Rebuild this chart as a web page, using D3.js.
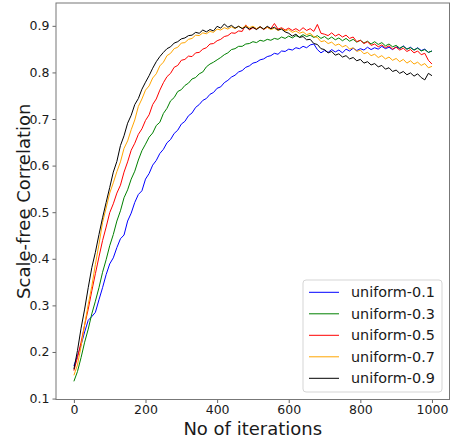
<!DOCTYPE html>
<html>
<head>
<meta charset="utf-8">
<script src="https://cdn.jsdelivr.net/npm/d3@7"></script>
<style>
  body { margin: 0; background: #fff; }
  svg { display: block; font-family: "DejaVu Sans", sans-serif; }
</style>
</head>
<body>
<script>
// every 10th iteration
var iterations = d3.range(0, 1001, 10);

var uniform01 = [0.170,0.192,0.215,0.243,0.268,0.276,0.285,0.312,0.338,0.366,
  0.389,0.402,0.424,0.443,0.451,0.481,0.498,0.521,0.538,0.546,
  0.571,0.583,0.601,0.611,0.626,0.635,0.649,0.656,0.669,0.676,
  0.689,0.695,0.707,0.713,0.725,0.731,0.740,0.744,0.753,0.757,
  0.766,0.769,0.778,0.783,0.790,0.794,0.801,0.804,0.811,0.814,
  0.820,0.822,0.827,0.829,0.834,0.836,0.841,0.839,0.846,0.845,
  0.850,0.848,0.853,0.851,0.856,0.853,0.859,0.861,0.849,0.842,
  0.847,0.843,0.849,0.844,0.848,0.842,0.850,0.846,0.852,0.847,
  0.851,0.848,0.854,0.849,0.853,0.850,0.856,0.851,0.854,0.849,
  0.855,0.851,0.857,0.850,0.854,0.848,0.853,0.847,0.850,0.843,0.846];

var uniform03 = [0.137,0.158,0.188,0.221,0.249,0.282,0.309,0.338,0.371,0.398,
  0.428,0.452,0.481,0.503,0.531,0.548,0.571,0.588,0.612,0.632,
  0.646,0.661,0.670,0.686,0.693,0.712,0.723,0.739,0.746,0.759,
  0.763,0.772,0.777,0.786,0.789,0.797,0.801,0.812,0.818,0.822,
  0.827,0.832,0.838,0.842,0.849,0.851,0.856,0.856,0.861,0.862,
  0.866,0.864,0.869,0.867,0.871,0.869,0.873,0.871,0.876,0.873,
  0.878,0.874,0.879,0.876,0.881,0.877,0.880,0.875,0.879,0.873,
  0.877,0.871,0.876,0.870,0.874,0.868,0.873,0.867,0.871,0.865,
  0.869,0.863,0.867,0.861,0.866,0.860,0.864,0.857,0.861,0.855,
  0.858,0.852,0.856,0.850,0.853,0.848,0.852,0.846,0.849,0.843,0.846];

var uniform05 = [0.160,0.188,0.221,0.258,0.292,0.331,0.368,0.404,0.439,0.468,
  0.499,0.518,0.541,0.558,0.586,0.608,0.633,0.648,0.667,0.679,
  0.697,0.709,0.731,0.743,0.762,0.778,0.791,0.798,0.811,0.815,
  0.826,0.828,0.835,0.834,0.842,0.843,0.850,0.853,0.861,0.862,
  0.868,0.871,0.877,0.879,0.885,0.884,0.889,0.888,0.902,0.891,
  0.896,0.893,0.898,0.892,0.897,0.894,0.905,0.893,0.896,0.891,
  0.895,0.890,0.894,0.889,0.896,0.890,0.894,0.888,0.903,0.884,
  0.882,0.879,0.885,0.878,0.882,0.876,0.880,0.873,0.876,0.866,
  0.869,0.862,0.866,0.858,0.861,0.855,0.859,0.853,0.857,0.850,
  0.854,0.848,0.852,0.845,0.849,0.842,0.846,0.838,0.841,0.826,0.818];

var uniform07 = [0.150,0.172,0.212,0.259,0.302,0.341,0.388,0.431,0.478,0.509,
  0.541,0.563,0.587,0.608,0.637,0.653,0.677,0.698,0.727,0.743,
  0.762,0.771,0.788,0.797,0.814,0.822,0.836,0.841,0.851,0.854,
  0.863,0.864,0.871,0.873,0.880,0.879,0.885,0.883,0.888,0.886,
  0.893,0.891,0.896,0.893,0.898,0.894,0.899,0.895,0.900,0.896,
  0.899,0.894,0.898,0.893,0.897,0.892,0.895,0.890,0.894,0.889,
  0.892,0.886,0.889,0.884,0.887,0.881,0.884,0.877,0.875,0.866,
  0.868,0.862,0.865,0.858,0.861,0.855,0.858,0.850,0.853,0.845,
  0.848,0.840,0.843,0.836,0.839,0.832,0.836,0.829,0.833,0.826,
  0.830,0.823,0.828,0.820,0.825,0.818,0.822,0.815,0.819,0.810,0.813];

var uniform09 = [0.163,0.203,0.251,0.292,0.338,0.381,0.414,0.452,0.488,0.521,
  0.553,0.586,0.609,0.643,0.664,0.691,0.708,0.731,0.744,0.764,
  0.779,0.793,0.809,0.823,0.834,0.843,0.851,0.855,0.863,0.866,
  0.872,0.874,0.879,0.880,0.886,0.884,0.891,0.887,0.892,0.889,
  0.899,0.895,0.904,0.897,0.901,0.895,0.899,0.894,0.898,0.893,
  0.897,0.892,0.898,0.893,0.899,0.894,0.897,0.891,0.893,0.887,
  0.884,0.878,0.882,0.875,0.877,0.870,0.871,0.862,0.860,0.851,
  0.849,0.842,0.845,0.837,0.840,0.833,0.836,0.829,0.832,0.825,
  0.828,0.820,0.823,0.816,0.819,0.812,0.815,0.807,0.810,0.802,
  0.805,0.798,0.802,0.795,0.799,0.792,0.797,0.789,0.784,0.798,0.793];

var seriesNames = ["uniform-0.1", "uniform-0.3", "uniform-0.5", "uniform-0.7", "uniform-0.9"];
var seriesValues = [uniform01, uniform03, uniform05, uniform07, uniform09];
var seriesColors = ["blue", "green", "red", "orange", "black"];

var xTicks = [0, 200, 400, 600, 800, 1000];
var yTicks = [0.1, 0.2, 0.3, 0.4, 0.5, 0.6, 0.7, 0.8, 0.9];

var W = 453, H = 443;
var plot = { left: 56, right: 449.5, top: 3, bottom: 399.5 };

var svg = d3.select("body").append("svg")
    .attr("width", W)
    .attr("height", H);

var x = d3.scaleLinear().domain([-50, 1049]).range([plot.left, plot.right]);
var y = d3.scaleLinear().domain([0.098, 0.949]).range([plot.bottom, plot.top]);

// axes
var xAxis = svg.append("g")
    .attr("transform", "translate(0," + plot.bottom + ")")
    .call(d3.axisBottom(x).tickValues(xTicks).tickSize(3.5).tickPadding(2.5).tickFormat(d3.format("d")));
var yAxis = svg.append("g")
    .attr("transform", "translate(" + plot.left + ",0)")
    .call(d3.axisLeft(y).tickValues(yTicks).tickSize(3.5).tickPadding(3).tickFormat(d3.format(".1f")));

[xAxis, yAxis].forEach(function(a) {
  a.select(".domain").remove();
  a.selectAll(".tick line").attr("stroke", "#555").attr("stroke-width", 0.9);
  a.selectAll(".tick text")
    .attr("fill", "#1a1a1a")
    .style("font-size", "12.5px")
    .style("font-family", "DejaVu Sans");
});

// lines
var line = d3.line()
    .x(function(d, i) { return x(iterations[i]); })
    .y(function(d) { return y(d); });

seriesValues.forEach(function(vals, k) {
  svg.append("path")
    .datum(vals)
    .attr("d", line)
    .attr("fill", "none")
    .attr("stroke", seriesColors[k])
    .attr("stroke-width", 1)
    .attr("stroke-linejoin", "round");
});

// frame
svg.append("rect")
    .attr("x", plot.left)
    .attr("y", plot.top)
    .attr("width", plot.right - plot.left)
    .attr("height", plot.bottom - plot.top)
    .attr("fill", "none")
    .attr("stroke", "#777")
    .attr("stroke-width", 1);

// axis labels
svg.append("text")
    .attr("x", (plot.left + plot.right) / 2)
    .attr("y", 435)
    .attr("text-anchor", "middle")
    .attr("fill", "#1a1a1a")
    .style("font-size", "18px")
    .text("No of iterations");

svg.append("text")
    .attr("transform", "translate(30," + ((plot.top + plot.bottom) / 2) + ") rotate(-90)")
    .attr("text-anchor", "middle")
    .attr("fill", "#1a1a1a")
    .style("font-size", "18px")
    .text("Scale-free Correlation");

// legend
var legend = svg.append("g").attr("transform", "translate(303,280)");
legend.append("rect")
    .attr("width", 139)
    .attr("height", 112)
    .attr("rx", 3)
    .attr("fill", "#fff")
    .attr("fill-opacity", 0.8)
    .attr("stroke", "#d5d5d5")
    .attr("stroke-width", 1);

seriesNames.forEach(function(name, k) {
  var row = legend.append("g").attr("transform", "translate(0," + (12.3 + k * 21.5) + ")");
  row.append("line")
    .attr("x1", 6).attr("x2", 36)
    .attr("stroke", seriesColors[k])
    .attr("stroke-width", 1);
  row.append("text")
    .attr("x", 48)
    .attr("dy", "0.36em")
    .attr("fill", "#1a1a1a")
    .style("font-size", "14.4px")
    .text(name);
});
</script>
</body>
</html>
